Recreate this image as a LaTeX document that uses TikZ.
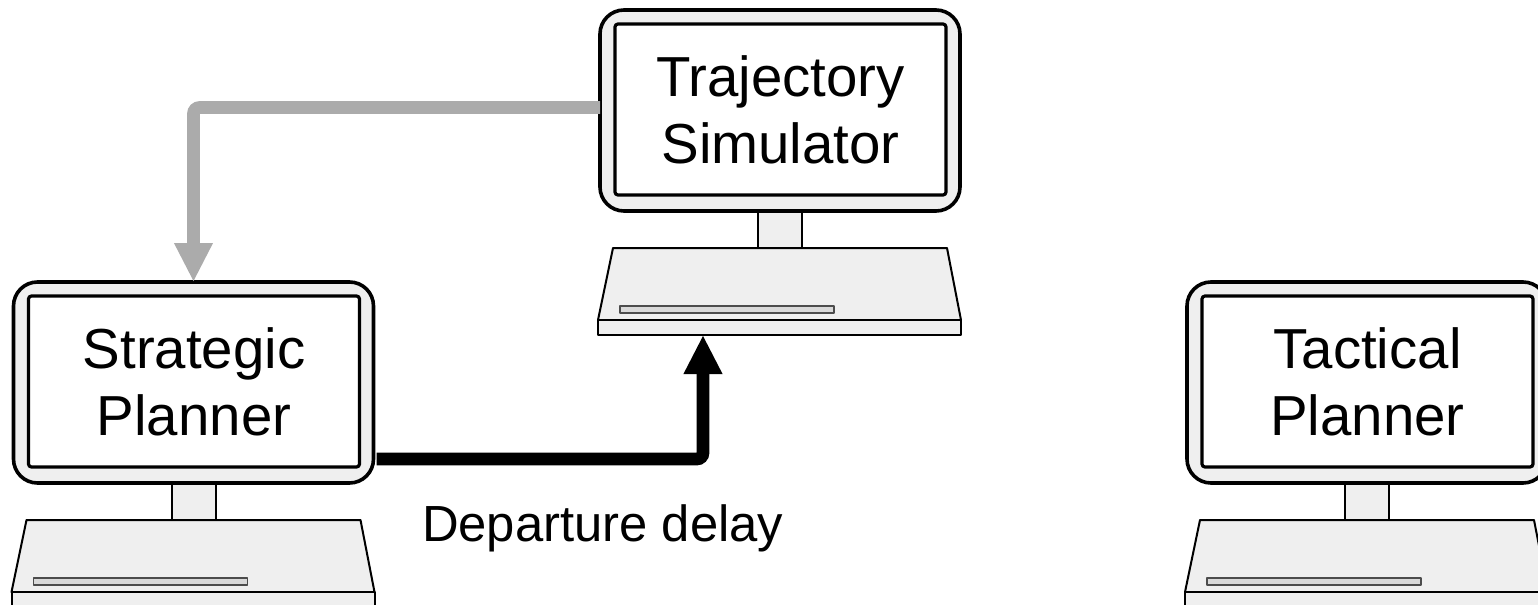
\documentclass[tikz,border=0pt]{standalone}
\usepackage{fontspec}
\setmainfont{Liberation Sans}
\usetikzlibrary{arrows.meta}
\definecolor{casegray}{HTML}{EFEFEF}
\definecolor{linkgray}{HTML}{ABABAB}
\tikzset{every node/.style={inner sep=0pt, outer sep=0pt}}
\tikzset{bezel/.style={draw, line width=1.8pt, fill=casegray, rounded corners=12pt, minimum width=180pt, minimum height=100.5pt},
  screen/.style={draw, line width=1.6pt, fill=white, rounded corners=1.5pt, minimum width=165.5pt, minimum height=85.5pt, align=center, font=\fontsize{28.2}{33.5}\selectfont},
  part/.style={draw, line width=1pt, fill=casegray, line join=round},
  link/.style={line width=6.3pt, rounded corners=3pt, -{Triangle[width=18pt,length=19.5pt]}},
  pics/computer/.style={code={
    \draw[part] (158,201) rectangle (202,238);
    \draw[part] (13,238) -- (347,238) -- (361,310) -- (-2,310) -- cycle;
    \draw[part] (-2,310) rectangle (361,325);
    \draw[part, line width=.9pt, draw=black!70, fill=gray!30] (20,296) rectangle (234,303);
    \node[bezel] (-bezel) at (180,100.5) {};
    \node[screen] (-screen) at (180.5,99.5) {#1};
    \coordinate (-tap) at (0,97.5);
    \coordinate (-out) at (363,177);
    \coordinate (-port) at (103,325);
  }}}

\begin{document}
\begin{tikzpicture}[x=0.5pt, y=-0.5pt]
   \useasboundingbox (0,0) rectangle (1538,605);
   \clip (0,0) rectangle (1538,605);
   \pic (simulator) at (600,10) {computer={Trajectory\\Simulator}};
   \pic (strategic) at (13.5,282) {computer={Strategic\\Planner}};
   \pic (tactical) at (1187,282) {computer={Tactical\\Planner}};
   \draw[link, linkgray] (simulator-tap) -| (strategic-bezel.north);
   \draw[link, black] (strategic-out) -| (simulator-port);
   \node[anchor=base west, font=\fontsize{25.4}{30}\selectfont] (delay) at (422,541) {Departure delay};
\end{tikzpicture}
\end{document}
